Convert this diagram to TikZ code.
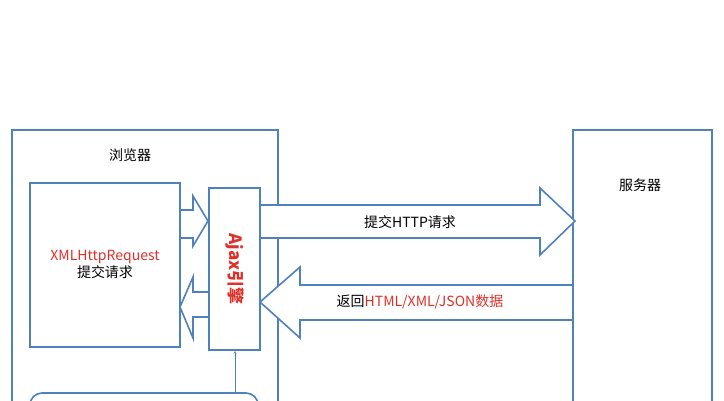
\documentclass[tikz,border=0pt]{standalone}
\usepackage{fontspec}
\setmainfont{Noto Sans CJK SC}
\usetikzlibrary{positioning,arrows.meta}
\definecolor{frameblue}{HTML}{4F81BD}
\definecolor{txtred}{HTML}{E0302A}
\tikzset{>=stealth,
  panel/.style={draw=frameblue,line width=1.6pt,fill=white},
  fat/.style={draw=frameblue,line width=1.6pt,fill=white,line join=miter}}
\begin{document}
\begin{tikzpicture}[x=1pt,y=-1pt,font=\fontsize{14}{17}\selectfont]
\useasboundingbox (0,0) rectangle (724,400);
% outer boxes
\draw[panel] (12,130) rectangle (278,410);
\node (browser) at (130,155) {浏览器};
\draw[panel] (573,130) rectangle (712,410);
\node (server) at (640,185) {服务器};
\draw[panel] (30,183) rectangle (180,347);
\node[align=center] (xhr) at (105,264) {\textcolor{txtred}{XMLHttpRequest}\\提交请求};
% small arrows between request box and engine
\draw[fat] (180,210) -- (193,210) -- (193,196) -- (208,221) -- (193,246) -- (193,238) -- (180,238) -- cycle;
\draw[fat] (210,292) -- (193,292) -- (193,277) -- (180,307) -- (193,338) -- (193,317) -- (210,317) -- cycle;
% big arrows
\draw[fat] (260,205) -- (540,205) -- (540,188) -- (575,221) -- (540,255) -- (540,238) -- (260,238) -- cycle;
\node (send) at (410,222) {提交HTTP请求};
\draw[fat] (573,285) -- (300,285) -- (300,267) -- (260,302) -- (300,338) -- (300,320) -- (573,320) -- cycle;
\node (back) at (420,302) {返回\textcolor{txtred}{HTML/XML/JSON数据}};
% engine
\node[panel,minimum width=51pt,minimum height=162pt,inner sep=0pt] (ajax) at (234.5,269) {};
\node[rotate=-90,text=txtred,font=\fontsize{17}{20}\selectfont\bfseries] at (ajax) {Ajax引擎};
% bottom box and link
\draw[panel,rounded corners=12pt] (30,393) rectangle (258,430);
\coordinate (low) at (235,393);
\draw[->,draw=frameblue,thin] (low) -- (ajax.south -| low);
\end{tikzpicture}
\end{document}
